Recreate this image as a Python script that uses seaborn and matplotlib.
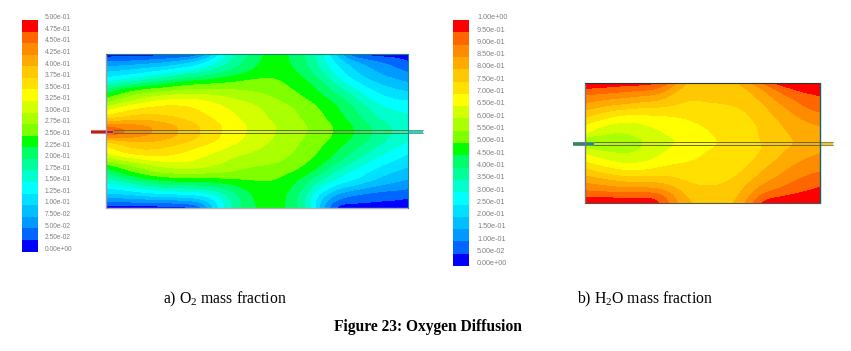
import numpy as np
import pandas as pd
import matplotlib
matplotlib.use('Agg')
import matplotlib.pyplot as plt
import matplotlib.tri as mtri
from matplotlib.colors import ListedColormap, BoundaryNorm
import seaborn as sns

band_colors = ['#0000ff', '#0066ff', '#0099ff', '#00bfff', '#00e0ff', '#00ffff', '#00ffcc',
               '#00ff99', '#00ff66', '#00ff00', '#80ff00', '#aaff00', '#d4ff00', '#ffff00',
               '#ffe000', '#ffc800', '#ffaa00', '#ff8c00', '#ff6600', '#ff0000']

o2_labels = ['5.00e-01', '4.75e-01', '4.50e-01', '4.25e-01', '4.00e-01', '3.75e-01', '3.50e-01',
             '3.25e-01', '3.00e-01', '2.75e-01', '2.50e-01', '2.25e-01', '2.00e-01', '1.75e-01',
             '1.50e-01', '1.25e-01', '1.00e-01', '7.50e-02', '5.00e-02', '2.50e-02', '0.00e+00']
h2o_labels = ['1.00e+00', '9.50e-01', '9.00e-01', '8.50e-01', '8.00e-01', '7.50e-01', '7.00e-01',
              '6.50e-01', '6.00e-01', '5.50e-01', '5.00e-01', '4.50e-01', '4.00e-01', '3.50e-01',
              '3.00e-01', '2.50e-01', '2.00e-01', '1.50e-01', '1.00e-01', '5.00e-02', '0.00e+00']

# sample positions on the page, pixels
o2_x = [106, 125, 144, 163, 181, 200, 219, 238, 257, 276, 295, 314, 332, 351, 370, 389, 408]
o2_y = [54, 62, 70, 80, 90, 100, 110, 120, 125, 131, 137, 142, 152, 162, 172, 182, 192, 200, 208]
h2o_x = [585, 600, 614, 629, 644, 658, 673, 688, 702, 717, 732, 747, 761, 776, 791, 805, 820]
h2o_y = [83, 89, 95, 103, 111, 119, 127, 135, 139, 143, 147, 151, 159, 167, 175, 183, 191, 197, 203]

# values
o2_field = [
    [.01, .01, .01, .012, .015, .02, .14, .175, .22, .24, .22, .18, .12, .02, .012, .01, .01],
    [.05, .055, .06, .07, .085, .11, .155, .19, .225, .24, .22, .185, .13, .085, .06, .045, .025],
    [.09, .095, .105, .115, .13, .15, .18, .205, .23, .24, .23, .19, .145, .10, .077, .058, .043],
    [.135, .145, .165, .19, .215, .225, .235, .245, .255, .255, .235, .22, .17, .125, .095, .08, .068],
    [.21, .24, .26, .265, .275, .28, .28, .275, .27, .265, .248, .232, .20, .16, .125, .105, .095],
    [.255, .285, .31, .33, .335, .33, .315, .30, .29, .277, .26, .243, .226, .19, .147, .127, .123],
    [.32, .345, .36, .365, .36, .35, .335, .32, .305, .29, .278, .258, .238, .21, .172, .15, .147],
    [.385, .40, .405, .39, .38, .365, .345, .327, .31, .295, .28, .265, .245, .22, .19, .165, .156],
    [.43, .43, .425, .41, .395, .372, .352, .332, .315, .299, .284, .269, .25, .226, .198, .172, .158],
    [.49, .455, .434, .416, .399, .375, .353, .333, .316, .30, .285, .27, .252, .23, .203, .177, .16],
    [.43, .43, .422, .41, .395, .372, .35, .33, .313, .298, .283, .267, .249, .227, .20, .173, .153],
    [.37, .395, .40, .395, .385, .365, .347, .327, .31, .295, .28, .262, .245, .222, .195, .17, .15],
    [.33, .36, .375, .365, .35, .335, .32, .305, .298, .287, .276, .255, .232, .202, .172, .145, .13],
    [.265, .285, .305, .325, .33, .32, .305, .287, .283, .28, .262, .245, .215, .175, .145, .126, .108],
    [.20, .24, .265, .28, .287, .287, .28, .272, .263, .255, .252, .224, .177, .145, .123, .10, .092],
    [.155, .17, .20, .22, .222, .222, .23, .24, .248, .252, .23, .18, .145, .125, .098, .08, .068],
    [.105, .11, .125, .135, .14, .145, .165, .205, .237, .24, .22, .15, .09, .058, .047, .043, .04],
    [.06, .062, .067, .072, .075, .08, .135, .195, .235, .24, .215, .13, .045, .035, .03, .026, .02],
    [.01, .01, .01, .01, .015, .02, .14, .195, .23, .24, .215, .145, .012, .01, .01, .01, .01],
]
h2o_field = [
    [.98, .98, .975, .97, .965, .96, .87, .78, .765, .77, .78, .825, .89, .97, .98, .985, .985],
    [.95, .94, .93, .92, .91, .905, .82, .765, .765, .77, .775, .795, .835, .91, .95, .97, .97],
    [.90, .89, .88, .87, .855, .85, .785, .758, .76, .765, .77, .785, .815, .875, .915, .94, .955],
    [.85, .83, .815, .805, .785, .78, .76, .74, .748, .75, .753, .765, .79, .84, .88, .915, .925],
    [.795, .765, .74, .725, .72, .725, .72, .72, .73, .73, .74, .75, .775, .815, .85, .89, .905],
    [.735, .705, .68, .66, .675, .68, .69, .70, .71, .715, .725, .74, .765, .795, .83, .855, .87],
    [.69, .645, .625, .615, .645, .652, .67, .685, .70, .707, .72, .735, .752, .785, .815, .835, .845],
    [.63, .59, .585, .59, .615, .635, .658, .672, .688, .702, .717, .735, .752, .775, .80, .825, .84],
    [.57, .565, .57, .583, .60, .627, .65, .667, .685, .70, .716, .734, .75, .772, .797, .822, .84],
    [.52, .545, .565, .58, .60, .625, .648, .665, .682, .70, .715, .733, .748, .77, .795, .82, .84],
    [.57, .57, .575, .583, .602, .627, .653, .67, .688, .702, .717, .732, .747, .775, .802, .822, .84],
    [.62, .595, .585, .585, .605, .63, .66, .675, .695, .705, .72, .73, .745, .78, .81, .825, .84],
    [.68, .65, .63, .615, .63, .655, .685, .69, .705, .715, .725, .735, .76, .795, .83, .85, .865],
    [.735, .705, .685, .665, .675, .695, .71, .71, .72, .725, .735, .745, .785, .82, .85, .87, .885],
    [.795, .765, .745, .73, .735, .74, .74, .73, .73, .735, .74, .76, .81, .84, .875, .895, .91],
    [.85, .835, .82, .80, .80, .80, .78, .745, .74, .745, .75, .795, .835, .87, .90, .92, .94],
    [.905, .893, .89, .88, .89, .88, .825, .775, .765, .76, .765, .82, .88, .91, .935, .95, .96],
    [.95, .95, .945, .94, .94, .95, .85, .785, .78, .77, .775, .835, .925, .95, .96, .97, .975],
    [.98, .98, .98, .975, .975, .97, .87, .795, .785, .78, .785, .85, .965, .98, .98, .985, .985],
]

W, H = 851, 351

sns.set_theme(style='white')
plt.rcParams['font.family'] = ['Liberation Sans', 'DejaVu Sans']
plt.rcParams['mathtext.fontset'] = 'custom'
plt.rcParams['mathtext.rm'] = 'Liberation Serif'

cmap = ListedColormap(band_colors)
fig = plt.figure(figsize=(W / 100, H / 100), dpi=100)

# whole page axes in pixel units, fields and captions go here
page = fig.add_axes([0, 0, 1, 1])
page.set_xlim(0, W)
page.set_ylim(H, 0)
page.axis('off')


def color_legend(x0, x1, y0, y1, labels, text_x, text_size):
    ax = fig.add_axes([x0 / W, 1 - y1 / H, (x1 - x0) / W, (y1 - y0) / H])
    bands = pd.DataFrame({'band': np.arange(len(band_colors))[::-1]})
    sns.heatmap(bands, ax=ax, cmap=cmap, cbar=False, xticklabels=False, yticklabels=False,
                vmin=-0.5, vmax=len(band_colors) - 0.5)
    step = (y1 - y0) / len(band_colors)
    for i, lab in enumerate(labels):
        page.text(text_x, y0 + i * step - 2.2, lab, fontsize=text_size, color='#808080',
                  va='center', ha='left')


def soften(values):
    # hand readings are noisy, take the wobble out before contouring
    z = np.array(values)
    z[:, 1:-1] = 0.2 * z[:, :-2] + 0.6 * z[:, 1:-1] + 0.2 * z[:, 2:]
    z[1:-1, :] = 0.15 * z[:-2, :] + 0.7 * z[1:-1, :] + 0.15 * z[2:, :]
    return z


def field(xs, ys, values, vmax):
    levels = np.linspace(0, vmax, len(band_colors) + 1)
    norm = BoundaryNorm(levels, cmap.N)
    gx, gy = np.meshgrid(xs, ys)
    tri = mtri.Triangulation(gx.ravel(), gy.ravel())
    fine_tri, fine_z = mtri.UniformTriRefiner(tri).refine_field(soften(values).ravel(), subdiv=3)
    fine_z = np.clip(fine_z, vmax * 0.002, vmax * 0.998)
    page.tricontourf(fine_tri, fine_z, levels=levels, cmap=cmap, norm=norm,
                     antialiased=False, zorder=2)


def tube(x0, x1, x_wall, x_end, y0, y1, c_left, c_right, edge):
    page.fill_between([x0, x_wall], y0, y1, color=c_left, lw=0, zorder=3)
    page.fill_between([x_end, x1], y0, y1, color=c_right, lw=0, zorder=3)
    page.plot([x_wall, x_end], [y0, y0], color='#6a6a30', lw=0.7, zorder=4)
    page.plot([x_wall, x_end], [y1, y1], color='#6a6a30', lw=0.7, zorder=4)
    for a, b in [(x0, x_wall), (x_end, x1)]:
        page.plot([a, b], [y0, y0], color=edge, lw=0.7, zorder=4)
        page.plot([a, b], [y1, y1], color=edge, lw=0.7, zorder=4)


color_legend(22, 38, 20, 251.5, o2_labels, 45, 4.8)
color_legend(452.5, 469, 20, 266, h2o_labels, 477, 5.2)

field(o2_x, o2_y, o2_field, 0.5)
field(h2o_x, h2o_y, h2o_field, 1.0)

# domain outlines
page.plot([106, 106], [54, 208], color='#9a9a9a', lw=1, zorder=5)
page.plot([106, 408], [208, 208], color='#b0b0b0', lw=1, zorder=5)
page.plot([106, 408], [54, 54], color='#108a70', lw=0.8, zorder=5)
page.plot([408, 408], [54, 208], color='#108a90', lw=0.8, zorder=5)
page.plot([585, 585], [83, 203], color='#777777', lw=1, zorder=5)
page.plot([585, 820], [83, 83], color='#333333', lw=0.8, zorder=5)
page.plot([820, 820], [83, 203], color='#106070', lw=1, zorder=5)
page.plot([585, 820], [203, 203], color='#555555', lw=0.8, zorder=5)

tube(91, 423, 113, 408, 129.5, 132.8, '#ff0000', '#00e8c0', '#909090')
tube(573, 833, 594, 820, 141.5, 144.5, '#00a060', '#ffc800', '#808080')

page.text(224.5, 299.5, 'a) O$_2$ mass fraction', family='Liberation Serif', fontsize=11.3,
          color='black', ha='center', va='center')
page.text(645, 299.5, 'b) H$_2$O mass fraction', family='Liberation Serif', fontsize=11.3,
          color='black', ha='center', va='center')
page.text(428, 327, 'Figure 23: Oxygen Diffusion', family='Liberation Serif', fontsize=11.2,
          fontweight='bold', color='black', ha='center', va='center')

fig.savefig('out.png', dpi=100)
